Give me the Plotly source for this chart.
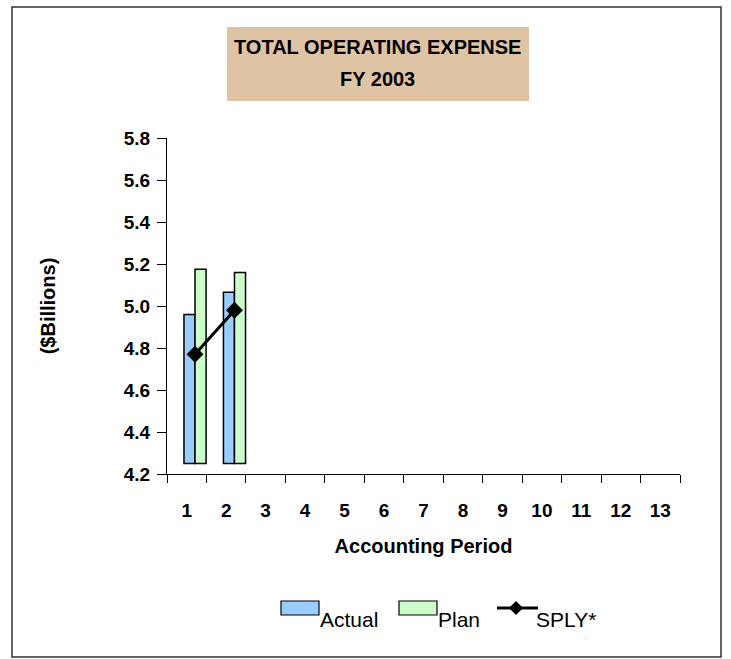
import plotly.graph_objects as go

# Accounting periods and FY 2003 operating expense ($ billions)
periods = list(range(1, 14))
period_labels = [str(p) for p in periods]
reported_periods = [1, 2]
actual = [4.96, 5.065]
plan = [5.175, 5.16]
sply = [4.77, 4.98]

y_ticks = [4.2, 4.4, 4.6, 4.8, 5.0, 5.2, 5.4, 5.6, 5.8]
bar_base = 4.25

BLUE = "#99CCFF"
GREEN = "#CCFFCC"
TAN = "#DEC3A5"
SANS = "Liberation Sans, Arial, sans-serif"

W, H = 731, 659
ML, MR, MT, MB = 167, 51, 138, 185
PW, PH = W - ML - MR, H - MT - MB


def px_x(p):
    return (p - ML) / PW


def px_y(p):
    return (MT + PH - p) / PH


fig = go.Figure()

fig.add_trace(go.Bar(
    x=reported_periods, y=[v - bar_base for v in actual], base=bar_base,
    offset=-0.07, width=0.28, name="Actual",
    marker=dict(color=BLUE, line=dict(color="black", width=1.5)),
    showlegend=False,
))
fig.add_trace(go.Bar(
    x=reported_periods, y=[v - bar_base for v in plan], base=bar_base,
    offset=0.21, width=0.28, name="Plan",
    marker=dict(color=GREEN, line=dict(color="black", width=1.5)),
    showlegend=False,
))
fig.add_trace(go.Scatter(
    x=[p + 0.21 for p in reported_periods], y=sply, name="SPLY*",
    mode="lines+markers",
    line=dict(color="black", width=3),
    marker=dict(symbol="diamond", size=13, color="black"),
    showlegend=False,
))

shapes = [
    # outer chart frame
    dict(type="rect", xref="paper", yref="paper",
         x0=px_x(12), x1=px_x(721), y0=px_y(657), y1=px_y(7),
         line=dict(color="#333333", width=1.5), fillcolor="rgba(0,0,0,0)",
         layer="below"),
    # title box
    dict(type="rect", xref="paper", yref="paper",
         x0=px_x(227), x1=px_x(529), y0=px_y(101), y1=px_y(27),
         line=dict(width=0), fillcolor=TAN, layer="below"),
    # legend swatches
    dict(type="rect", xref="paper", yref="paper",
         x0=px_x(281), x1=px_x(319), y0=px_y(615), y1=px_y(601),
         line=dict(color="black", width=1.2), fillcolor=BLUE),
    dict(type="rect", xref="paper", yref="paper",
         x0=px_x(399), x1=px_x(437), y0=px_y(615), y1=px_y(601),
         line=dict(color="black", width=1.2), fillcolor=GREEN),
    dict(type="line", xref="paper", yref="paper",
         x0=px_x(497), x1=px_x(538), y0=px_y(608), y1=px_y(608),
         line=dict(color="black", width=3)),
    dict(type="path", xref="paper", yref="paper",
         path="M {a},{b} L {c},{d} L {a},{e} L {f},{d} Z".format(
             a=px_x(516), b=px_y(601), c=px_x(523), d=px_y(608),
             e=px_y(615), f=px_x(509)),
         line=dict(width=0), fillcolor="black"),
]

annotations = []
for line_text, py in (("TOTAL OPERATING EXPENSE", 47), ("FY 2003", 79)):
    annotations.append(dict(
        text=f"<b>{line_text}</b>", xref="paper", yref="paper",
        x=px_x(377), y=px_y(py), xanchor="center", yanchor="middle",
        showarrow=False, font=dict(family=SANS, size=20, color="black"),
    ))
for label, px0 in (("Actual", 318), ("Plan", 436), ("SPLY*", 534)):
    annotations.append(dict(
        text=label, xref="paper", yref="paper", x=px_x(px0), y=px_y(619),
        xanchor="left", yanchor="middle", showarrow=False,
        font=dict(family=SANS, size=21, color="black"),
    ))

fig.update_layout(
    width=W, height=H,
    margin=dict(l=ML, r=MR, t=MT, b=MB, pad=0),
    paper_bgcolor="white", plot_bgcolor="white",
    barmode="overlay",
    shapes=shapes, annotations=annotations,
    xaxis=dict(
        range=[0.5, 13.5], tickmode="array", tickvals=periods,
        ticktext=[f"<b>{t}</b>" for t in period_labels],
        ticks="", ticklabelstandoff=19,
        tickfont=dict(family=SANS, size=19, color="black"),
        minor=dict(tickmode="linear", tick0=0.5, dtick=1, ticks="outside",
                   ticklen=8, tickwidth=1, tickcolor="black"),
        showline=True, linecolor="black", linewidth=1,
        showgrid=False, zeroline=False, fixedrange=True,
        title=dict(text="<b>Accounting Period</b>", standoff=19,
                   font=dict(family=SANS, size=20, color="black")),
    ),
    yaxis=dict(
        range=[4.2, 5.8], tickmode="array", tickvals=y_ticks,
        ticktext=[f"<b>{v:.1f}</b>" for v in y_ticks],
        ticks="outside", ticklen=9, tickwidth=1, tickcolor="black",
        ticklabelstandoff=3,
        tickfont=dict(family=SANS, size=19, color="black"),
        showline=True, linecolor="black", linewidth=1,
        showgrid=False, zeroline=False, fixedrange=True,
        title=dict(text="<b>($Billions)</b>", standoff=62,
                   font=dict(family=SANS, size=20, color="black")),
    ),
)

fig.write_html("out.html")
